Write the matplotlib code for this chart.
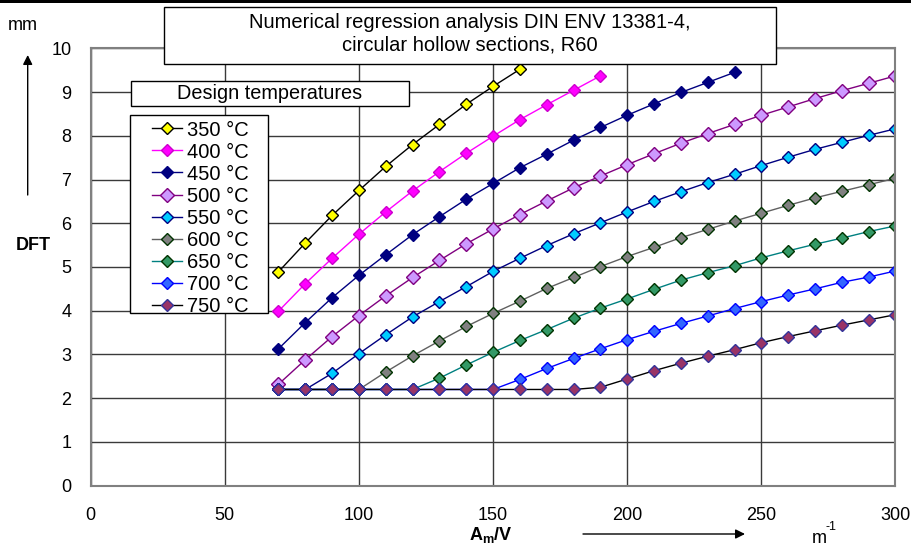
import matplotlib
matplotlib.use("Agg")
import matplotlib.pyplot as plt
from matplotlib.patches import Rectangle

plt.rcParams['font.family'] = ['Liberation Sans', 'DejaVu Sans']
plt.rcParams['mathtext.fontset'] = 'custom'
plt.rcParams['mathtext.rm'] = 'Liberation Sans'
plt.rcParams['mathtext.bf'] = 'Liberation Sans:bold'

# A_m/V values, m^-1
am_v = [70, 80, 90, 100, 110, 120, 130, 140, 150, 160, 170, 180,
        190, 200, 210, 220, 230, 240, 250, 260, 270, 280, 290, 300]

# DFT in mm for each design temperature
dft_350 = [4.89, 5.55, 6.18, 6.75, 7.30, 7.80, 8.26, 8.72, 9.13, 9.52]
dft_400 = [3.99, 4.62, 5.20, 5.75, 6.26, 6.74, 7.18, 7.60, 7.99, 8.37, 8.71, 9.04, 9.37]
dft_450 = [3.13, 3.73, 4.30, 4.81, 5.28, 5.74, 6.15, 6.55, 6.91, 7.27, 7.58, 7.90,
           8.19, 8.47, 8.73, 8.99, 9.22, 9.45]
dft_500 = [2.32, 2.88, 3.41, 3.89, 4.34, 4.76, 5.15, 5.53, 5.87, 6.20, 6.51, 6.81,
           7.08, 7.34, 7.59, 7.83, 8.05, 8.26, 8.47, 8.66, 8.85, 9.03, 9.20, 9.37]
dft_550 = [2.2, 2.2, 2.57, 3.02, 3.45, 3.86, 4.21, 4.55, 4.90, 5.20, 5.49, 5.76,
           6.01, 6.26, 6.50, 6.72, 6.93, 7.12, 7.32, 7.51, 7.69, 7.85, 8.01, 8.16]
dft_600 = [2.2, 2.2, 2.2, 2.2, 2.60, 2.97, 3.31, 3.64, 3.94, 4.22, 4.51, 4.76,
           5.01, 5.24, 5.45, 5.67, 5.86, 6.05, 6.23, 6.41, 6.58, 6.73, 6.88, 7.03]
dft_650 = [2.2, 2.2, 2.2, 2.2, 2.2, 2.2, 2.46, 2.76, 3.05, 3.32, 3.57, 3.83,
           4.06, 4.27, 4.49, 4.70, 4.87, 5.03, 5.21, 5.37, 5.52, 5.66, 5.81, 5.94]
dft_700 = [2.2, 2.2, 2.2, 2.2, 2.2, 2.2, 2.2, 2.2, 2.2, 2.43, 2.68, 2.91,
           3.13, 3.34, 3.53, 3.71, 3.88, 4.05, 4.21, 4.36, 4.50, 4.65, 4.77, 4.91]
dft_750 = [2.2, 2.2, 2.2, 2.2, 2.2, 2.2, 2.2, 2.2, 2.2, 2.2, 2.2, 2.2,
           2.25, 2.44, 2.63, 2.80, 2.96, 3.11, 3.27, 3.41, 3.54, 3.67, 3.79, 3.91]

labels = ['350 °C', '400 °C', '450 °C', '500 °C', '550 °C',
          '600 °C', '650 °C', '700 °C', '750 °C']
series = [dft_350, dft_400, dft_450, dft_500, dft_550,
          dft_600, dft_650, dft_700, dft_750]
# line colour, marker face, marker edge, marker size
styles = [('#000000', '#FFFF00', '#000000', 6),
          ('#FF00FF', '#FF00FF', '#CC00CC', 6),
          ('#000080', '#000080', '#000080', 6),
          ('#800080', '#CC99FF', '#800080', 7.5),
          ('#000080', '#00CCFF', '#000080', 6),
          ('#606060', '#808080', '#003300', 6),
          ('#008080', '#339966', '#003300', 6),
          ('#0000FF', '#3366FF', '#0000FF', 6),
          ('#000000', '#993366', '#333399', 6)]

W, H = 912, 558
def fx(px):
    return px / W
def fy(py):
    return 1 - py / H

fig = plt.figure(figsize=(9.12, 5.58), dpi=100)
ax = fig.add_axes([fx(90.7), fy(485.7), (895.5 - 90.7) / W, (485.7 - 48.3) / H])

handles = []
for vals, lab, (lc, mf, me, ms) in zip(series, labels, styles):
    h, = ax.plot(am_v[:len(vals)], vals, color=lc, lw=1, marker='D', ms=ms,
                 markerfacecolor=mf, markeredgecolor=me, markeredgewidth=1, label=lab)
    handles.append(h)

ax.set_xlim(0, 300)
ax.set_ylim(0, 10)
ax.set_xticks(range(0, 301, 50))
ax.set_yticks(range(0, 11))
ax.grid(True, color='#3a3a3a', lw=1)
ax.set_axisbelow(True)
for s in ax.spines.values():
    s.set_color('#808080')
    s.set_linewidth(1.5)
ax.tick_params(length=0, labelsize=13, pad=14)
ax.tick_params(axis='x', pad=15)

# legend frame drawn by hand, legend itself without frame on top
fig.patches.append(Rectangle((fx(129.7), fy(313.3)), (268.3 - 129.7) / W, (313.3 - 115) / H,
                             transform=fig.transFigure, facecolor='white',
                             edgecolor='black', lw=1, zorder=5))
leg = fig.legend(handles, labels, loc='upper left', bbox_to_anchor=(fx(151.7), fy(120.5)),
                 borderaxespad=0, borderpad=0, fontsize=14.5, frameon=False,
                 labelspacing=0.15, handlelength=1.5, handletextpad=0.25)
leg.set_zorder(6)

# title box and legend heading box
fig.patches.append(Rectangle((fx(164), fy(64)), (775.7 - 164) / W, (64 - 6.7) / H,
                             transform=fig.transFigure, facecolor='white',
                             edgecolor='black', lw=1, zorder=5))
fig.text(fx(470), fy(22), 'Numerical regression analysis DIN ENV 13381-4,',
         ha='center', va='center', fontsize=14.5, zorder=6)
fig.text(fx(470), fy(45), 'circular hollow sections, R60',
         ha='center', va='center', fontsize=14.5, zorder=6)
fig.patches.append(Rectangle((fx(131.3), fy(106.3)), (408.7 - 131.3) / W, (106.3 - 80.7) / H,
                             transform=fig.transFigure, facecolor='white',
                             edgecolor='black', lw=1, zorder=5))
fig.text(fx(270), fy(93.5), 'Design temperatures', ha='center', va='center',
         fontsize=14.3, zorder=6)

# black bar at top edge
fig.patches.append(Rectangle((0, fy(3.3)), 1, 3.3 / H, transform=fig.transFigure,
                             facecolor='black', edgecolor='none', zorder=7))

# axis annotations
fig.text(fx(8), fy(25), 'mm', ha='left', va='center', fontsize=13)
fig.text(fx(33.5), fy(245), 'DFT', ha='center', va='center', fontsize=13, fontweight='bold')
ax.annotate('', xy=(fx(27.7), fy(55)), xytext=(fx(27.7), fy(195)),
            xycoords='figure fraction', textcoords='figure fraction',
            arrowprops=dict(arrowstyle='-|>', color='black', lw=1,
                            mutation_scale=14, shrinkA=0, shrinkB=0),
            annotation_clip=False)
fig.text(fx(491), fy(540), r'$\mathbf{A_m/V}$', ha='center', va='baseline', fontsize=13)
ax.annotate('', xy=(fx(745), fy(534)), xytext=(fx(583), fy(534)),
            xycoords='figure fraction', textcoords='figure fraction',
            arrowprops=dict(arrowstyle='-|>', color='black', lw=1,
                            mutation_scale=14, shrinkA=0, shrinkB=0),
            annotation_clip=False)
fig.text(fx(811.7), fy(543), 'm', ha='left', va='baseline', fontsize=13)
fig.text(fx(826), fy(529.5), '-1', ha='left', va='baseline', fontsize=9)

fig.savefig('out.png', dpi=100)
